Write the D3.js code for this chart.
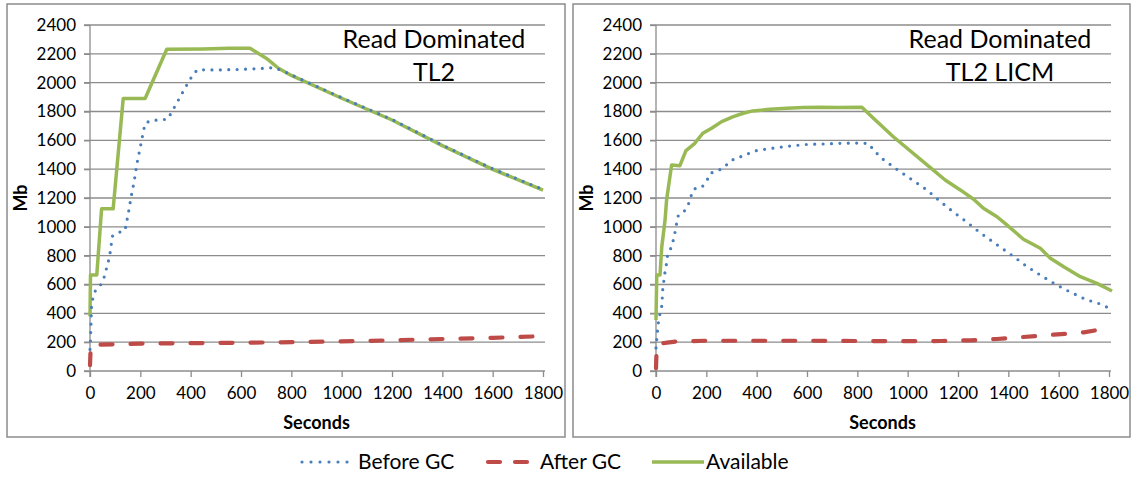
<!DOCTYPE html>
<html>
<head>
<meta charset="utf-8">
<script src="https://cdn.jsdelivr.net/npm/d3@7"></script>
<style>
  html, body { margin: 0; padding: 0; background: #fff; }
  svg { display: block; font-family: Lato, "Open Sans", sans-serif; }
</style>
</head>
<body>
<svg id="chart" width="1133" height="477"></svg>
<script>
// ---------- DATA ----------
const xTicks = [0, 200, 400, 600, 800, 1000, 1200, 1400, 1600, 1800];
const yTicks = [0, 200, 400, 600, 800, 1000, 1200, 1400, 1600, 1800, 2000, 2200, 2400];
const seriesNames = ["Before GC", "After GC", "Available"];

const tl2Title = ["Read Dominated", "TL2"];
const tl2Before = [[0,150],[2,215],[4,330],[6,450],[12,510],[21,555],[40,590],[56,650],[73,760],[80,820],[89,935],[113,960],[139,975],[152,1090],[163,1205],[176,1320],[186,1435],[199,1545],[212,1660],[219,1718],[245,1740],[278,1740],[309,1748],[342,1850],[375,1955],[408,2053],[427,2090],[500,2088],[600,2092],[696,2100],[729,2104],[762,2085],[800,2054],[1000,1896],[1200,1745],[1400,1567],[1600,1403],[1800,1259]];
const tl2After = [[0,40],[3,180],[40,183],[200,190],[400,193],[600,196],[800,200],[1000,205],[1200,213],[1400,222],[1600,230],[1800,242]];
const tl2Avail = [[0,380],[2,666],[27,666],[46,1125],[92,1125],[132,1890],[219,1890],[305,2232],[450,2234],[550,2238],[636,2238],[700,2170],[749,2100],[800,2050],[1000,1892],[1200,1741],[1400,1563],[1600,1399],[1800,1254]];

const licmTitle = ["Read Dominated", "TL2 LICM"];
const licmBefore = [[0,160],[5,260],[9,331],[16,400],[23,451],[25,511],[27,569],[36,689],[42,747],[46,805],[60,855],[69,909],[76,966],[82,1025],[89,1082],[113,1110],[128,1152],[138,1209],[151,1263],[182,1274],[202,1320],[215,1371],[244,1389],[270,1410],[292,1452],[321,1480],[351,1492],[381,1521],[411,1533],[444,1540],[477,1549],[510,1556],[544,1563],[610,1573],[676,1575],[742,1580],[811,1581],[844,1578],[871,1521],[897,1475],[924,1441],[951,1406],[1076,1256],[1126,1181],[1180,1105],[1233,1036],[1286,962],[1366,862],[1422,793],[1475,723],[1533,659],[1588,601],[1648,546],[1707,497],[1765,465],[1801,435]];
const licmAfter = [[0,20],[2,130],[8,190],[36,195],[82,205],[200,210],[400,210],[600,210],[800,208],[1000,207],[1133,208],[1249,213],[1355,222],[1460,236],[1580,252],[1700,268],[1805,300]];
const licmAvail = [[0,354],[3,666],[16,666],[23,862],[36,1047],[42,1186],[62,1429],[95,1424],[119,1528],[152,1575],[186,1649],[221,1684],[261,1730],[307,1764],[347,1788],[384,1804],[453,1815],[520,1822],[586,1827],[652,1829],[720,1827],[818,1830],[864,1753],[943,1625],[1102,1394],[1149,1325],[1209,1256],[1262,1191],[1301,1129],[1355,1070],[1394,1013],[1460,914],[1527,851],[1567,782],[1620,723],[1686,654],[1752,608],[1812,555]];

// ---------- STYLE ----------
const colors = { before: "#4a7ebb", after: "#be4b48", avail: "#98b954" };
const gridColor = "#8c8c8c";
const svg = d3.select("#chart");

function panel(cfg) {
  const g = svg.append("g");
  g.append("rect")
    .attr("x", cfg.frame[0]).attr("y", cfg.frame[1])
    .attr("width", cfg.frame[2] - cfg.frame[0]).attr("height", cfg.frame[3] - cfg.frame[1])
    .attr("fill", "#fff").attr("stroke", "#8c8c8c").attr("stroke-width", 1.5);

  const x = d3.scaleLinear().domain([0, 1800]).range([cfg.left, cfg.right]);
  const y = d3.scaleLinear().domain([0, 2400]).range([cfg.bottom, cfg.top]);

  g.append("g").selectAll("line").data(yTicks.filter(d => d > 0)).join("line")
    .attr("x1", cfg.left - 6).attr("x2", cfg.right + 2)
    .attr("y1", d => y(d)).attr("y2", d => y(d))
    .attr("stroke", gridColor).attr("stroke-width", 1.3);

  const yAxis = d3.axisLeft(y).tickValues(yTicks).tickSize(6).tickPadding(8).tickFormat(d3.format("d"));
  const ya = g.append("g").attr("transform", `translate(${cfg.left},0)`).call(yAxis);
  const xAxis = d3.axisBottom(x).tickValues(xTicks).tickSize(6).tickPadding(10).tickFormat(d3.format("d"));
  const xa = g.append("g").attr("transform", `translate(0,${cfg.bottom})`).call(xAxis);
  [ya, xa].forEach(a => {
    a.select(".domain").remove();
    a.selectAll("line").attr("stroke", gridColor).attr("stroke-width", 1.3);
    a.selectAll("text").attr("fill", "#000").style("font-size", "17px").style("font-family", "Lato, sans-serif");
  });
  g.append("line").attr("x1", cfg.left).attr("x2", cfg.left).attr("y1", cfg.top).attr("y2", cfg.bottom + 6)
    .attr("stroke", gridColor).attr("stroke-width", 1.3);
  g.append("line").attr("x1", cfg.left - 6).attr("x2", cfg.right + 2).attr("y1", cfg.bottom).attr("y2", cfg.bottom)
    .attr("stroke", gridColor).attr("stroke-width", 1.3);

  g.append("text").attr("transform", `translate(${cfg.left - 63},${(cfg.top + cfg.bottom) / 2}) rotate(-90)`)
    .attr("text-anchor", "middle").attr("font-weight", "bold").attr("font-size", 18).text("Mb");
  g.append("text").attr("x", (cfg.left + cfg.right) / 2).attr("y", cfg.bottom + 58)
    .attr("text-anchor", "middle").attr("font-weight", "bold").attr("font-size", 18).text("Seconds");

  g.append("text").attr("x", cfg.titleX).attr("y", 48).attr("text-anchor", "middle")
    .attr("font-size", 25).text(cfg.title[0]);
  g.append("text").attr("x", cfg.titleX).attr("y", 81).attr("text-anchor", "middle")
    .attr("font-size", 25).text(cfg.title[1]);

  const line = d3.line().x(d => x(d[0])).y(d => y(d[1]));
  g.append("path").datum(cfg.avail).attr("d", line).attr("fill", "none")
    .attr("stroke", colors.avail).attr("stroke-width", 3.5).attr("stroke-linejoin", "round");
  g.append("path").datum(cfg.after).attr("d", line).attr("fill", "none")
    .attr("stroke", colors.after).attr("stroke-width", 4.2).attr("stroke-linecap", "round")
    .attr("stroke-dasharray", "12 18");
  g.append("path").datum(cfg.before).attr("d", line).attr("fill", "none")
    .attr("stroke", colors.before).attr("stroke-width", 3.2).attr("stroke-linecap", "round")
    .attr("stroke-dasharray", "0 8.4");
}

panel({ frame: [7, 4, 565, 437], left: 90, right: 543, top: 25, bottom: 371, titleX: 434,
        title: tl2Title, before: tl2Before, after: tl2After, avail: tl2Avail });
panel({ frame: [573, 4, 1130, 437], left: 656, right: 1109, top: 25, bottom: 371, titleX: 1000,
        title: licmTitle, before: licmBefore, after: licmAfter, avail: licmAvail });

// ---------- LEGEND ----------
const legend = svg.append("g");
const legY = 462;
const legItems = [
  { name: seriesNames[0], x1: 302, x2: 348, tx: 358, stroke: colors.before, w: 3.2, dash: "0 9", cap: "round" },
  { name: seriesNames[1], x1: 488, x2: 528, tx: 540, stroke: colors.after, w: 4.2, dash: "12 15", cap: "round" },
  { name: seriesNames[2], x1: 652, x2: 704, tx: 706, stroke: colors.avail, w: 3.5, dash: null, cap: "butt" }
];
legItems.forEach(it => {
  legend.append("line").attr("x1", it.x1).attr("x2", it.x2).attr("y1", legY).attr("y2", legY)
    .attr("stroke", it.stroke).attr("stroke-width", it.w).attr("stroke-linecap", it.cap)
    .attr("stroke-dasharray", it.dash);
  legend.append("text").attr("x", it.tx).attr("y", legY + 7).attr("font-size", 21).text(it.name);
});
</script>
</body>
</html>
